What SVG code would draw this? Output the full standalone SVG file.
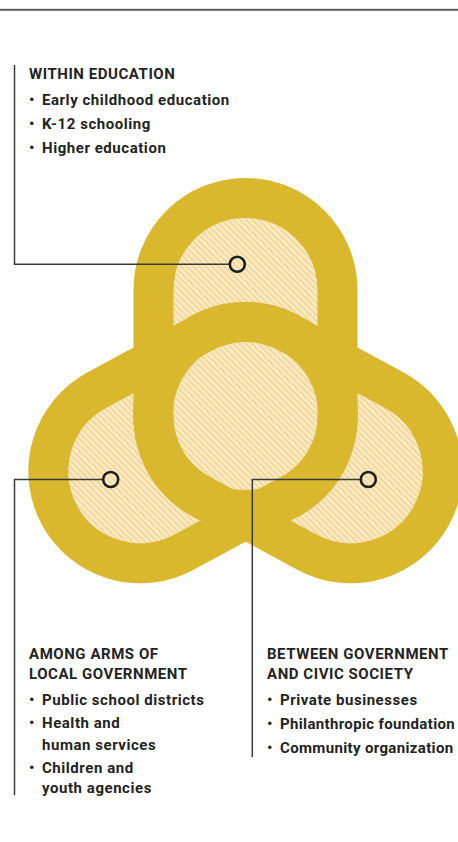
<svg xmlns="http://www.w3.org/2000/svg" xmlns:xlink="http://www.w3.org/1999/xlink" width="458" height="842" viewBox="0 0 458 842">
  <style>
    .hd { font-family: Roboto, "Liberation Sans", sans-serif; font-size: 15px; font-weight: 700; letter-spacing: 0.55px; fill: #232323; }
    .it { font-family: Roboto, "Liberation Sans", sans-serif; font-size: 15px; font-weight: 700; letter-spacing: 0.55px; fill: #232323; }
    .tight { letter-spacing: 0.35px; }
    .ld { fill: none; stroke: #3a3a3a; stroke-width: 1.5; }
    .dot { fill: none; stroke: #1e1e1e; stroke-width: 2.6; }
    .ring { fill: none; stroke: #d9b82e; stroke-width: 40; }
  </style>
  <defs>
    <pattern id="hatch" width="4.4" height="10" patternUnits="userSpaceOnUse" patternTransform="rotate(-45)">
      <rect width="4.4" height="10" fill="#fcecce"/>
      <rect width="2.2" height="10" fill="#f4d898"/>
    </pattern>
    <path id="capT" d="M0,-92 L128,-92 A92,92 0 0 1 128,92 L0,92 A92,92 0 0 1 0,-92 Z" transform="translate(245.5,290) rotate(90)"/>
    <path id="capL" d="M0,-92 L120.2,-92 A92,92 0 0 1 120.2,92 L0,92 A92,92 0 0 1 0,-92 Z" transform="translate(140.3,471.3) rotate(-28.5)"/>
    <path id="capR" d="M0,-92 L120.2,-92 A92,92 0 0 1 120.2,92 L0,92 A92,92 0 0 1 0,-92 Z" transform="translate(350.7,471.3) rotate(-151.5)"/>
    <clipPath id="innerClip">
      <use href="#capT"/>
      <use href="#capL"/>
      <use href="#capR"/>
    </clipPath>
  </defs>

  <rect width="458" height="842" fill="#ffffff"/>
  <rect x="0" y="8.8" width="458" height="2" fill="#5e5e5e"/>

  <g id="venn">
    <rect x="0" y="150" width="458" height="460" fill="url(#hatch)" clip-path="url(#innerClip)"/>
    <g class="ring">
      <use href="#capT"/>
      <use href="#capL"/>
      <use href="#capR"/>
    </g>
  </g>

  <g id="connectors">
    <polyline class="ld" points="14.5,65 14.5,264.3 229.8,264.3"/>
    <polyline class="ld" points="14.5,795 14.5,479.5 103.2,479.5"/>
    <polyline class="ld" points="252.3,757 252.3,479.5 360.8,479.5"/>
  </g>

  <g id="node-within">
    <circle class="dot" cx="237.3" cy="264.3" r="7.5"/>
    <text class="hd" x="29" y="78.5">WITHIN EDUCATION</text>
    <text class="it" x="29" y="105">•</text><text class="it" x="42" y="105">Early childhood education</text>
    <text class="it" x="29" y="129">•</text><text class="it" x="42" y="129">K-12 schooling</text>
    <text class="it" x="29" y="153">•</text><text class="it" x="42" y="153">Higher education</text>
  </g>

  <g id="node-among">
    <circle class="dot" cx="110.7" cy="479.5" r="7.5"/>
    <text class="hd" x="29" y="658.5">AMONG ARMS OF</text>
    <text class="hd" x="29" y="678.5">LOCAL GOVERNMENT</text>
    <text class="it" x="29" y="705">•</text><text class="it" x="42" y="705">Public school districts</text>
    <text class="it" x="29" y="728">•</text><text class="it" x="42" y="728">Health and</text>
    <text class="it" x="42" y="750">human services</text>
    <text class="it" x="29" y="773">•</text><text class="it" x="42" y="773">Children and</text>
    <text class="it" x="42" y="793">youth agencies</text>
  </g>

  <g id="node-between">
    <circle class="dot" cx="368.3" cy="479.5" r="7.5"/>
    <text class="hd" x="267" y="658.5">BETWEEN GOVERNMENT</text>
    <text class="hd" x="267" y="678.5">AND CIVIC SOCIETY</text>
    <text class="it" x="267" y="705">•</text><text class="it" x="280" y="705">Private businesses</text>
    <text class="it" x="267" y="729">•</text><text class="it tight" x="280" y="729">Philanthropic foundation</text>
    <text class="it" x="267" y="753">•</text><text class="it tight" x="280" y="753">Community organization</text>
  </g>
</svg>
